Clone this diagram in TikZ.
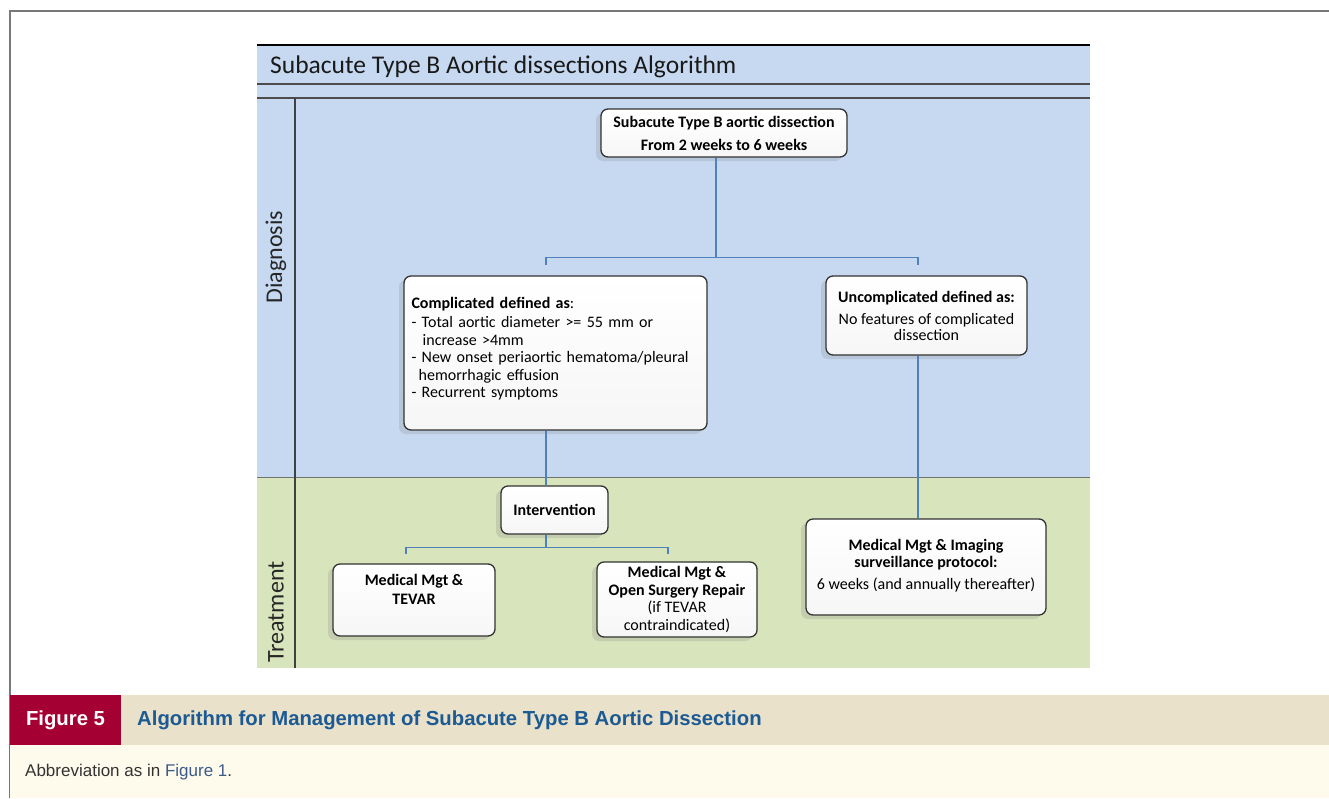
\documentclass[tikz,border=0pt]{standalone}
\usepackage{fontspec}
\setmainfont{Carlito}
\newfontfamily\capfont{Liberation Sans}
\usetikzlibrary{shadows,calc}
\definecolor{bandblue}{RGB}{198,217,240}
\definecolor{bandgreen}{RGB}{216,228,188}
\definecolor{figred}{RGB}{165,0,52}
\definecolor{captan}{RGB}{233,225,202}
\definecolor{capcream}{RGB}{254,251,236}
\definecolor{capblue}{RGB}{28,90,148}
\definecolor{linkblue}{RGB}{60,90,140}
\definecolor{connblue}{RGB}{79,129,189}
\definecolor{boxborder}{RGB}{50,50,50}
\definecolor{framegray}{RGB}{120,120,120}
\begin{document}
\begin{tikzpicture}[x=1pt,y=-1pt,
  box/.style={draw=boxborder, line width=1.3pt, rounded corners=7pt,
    top color=white, bottom color=gray!7,
    drop shadow={shadow xshift=-5pt, shadow yshift=-4pt, opacity=0.22, fill=gray},
    inner sep=3pt, align=center, font=\fontsize{16}{18}\selectfont},
  conn/.style={draw=connblue, line width=1.1pt},
  lane/.style={font=\fontsize{24}{28}\selectfont, rotate=90, text=black!85}]
\useasboundingbox (0,0) rectangle (1329,798);
% outer frame
\draw[framegray, line width=1.2pt] (10,798) -- (10,11) -- (1329,11);
% diagram background
\fill[bandblue] (257,45) rectangle (1090,477);
\fill[bandgreen] (257,477) rectangle (1090,668);
\draw[black, line width=2.5pt] (257,45) -- (1090,45);
\draw[black!70, line width=1.4pt] (257,84) -- (1090,84);
\draw[black!70, line width=1.4pt] (257,98) -- (1090,98);
\draw[black!55, line width=0.8pt] (257,477) -- (1090,477);
\draw[black!75, line width=1.2pt] (295,98) -- (295,668);
\node[anchor=west, font=\fontsize{25.5}{30}\selectfont, text=black!90, inner sep=0pt] (title) at (270,67) {Subacute Type B Aortic dissections Algorithm};
\node[lane] (diag) at (276,257) {Diagnosis};
\node[lane] (treat) at (276,612) {Treatment};
% boxes
\node[box, minimum width=246pt, minimum height=48pt, font=\bfseries\fontsize{16}{23}\selectfont] (top) at (724,133)
  {Subacute Type B aortic dissection\\From 2 weeks to 6 weeks};
\node[box, minimum width=303pt, minimum height=154pt, align=left, text width=288pt, font=\fontsize{16}{17.6}\selectfont] (comp) at (555.5,353)
  {\textbf{Complicated defined as}:\\[1pt]
   - Total aortic diameter >= 55 mm or\\
   \hspace*{0.7em}increase >4mm\\
   - New onset periaortic hematoma/pleural\\
   \hspace*{0.45em}hemorrhagic effusion\\
   - Recurrent symptoms\\[-7pt]\mbox{}};
\node[box, minimum width=201pt, minimum height=79pt, font=\fontsize{16}{16}\selectfont] (uncomp) at (926.5,315.5)
  {\textbf{Uncomplicated defined as:}\\[6pt]No features of complicated\\dissection};
\node[box, minimum width=107pt, minimum height=48pt, font=\bfseries\fontsize{16}{18}\selectfont] (interv) at (554.5,510) {Intervention};
\node[box, minimum width=240pt, minimum height=96pt, font=\fontsize{16}{17}\selectfont] (imaging) at (926,567)
  {\mbox{}\\[-9pt]\textbf{Medical Mgt \& Imaging}\\\textbf{surveillance protocol:}\\[5pt]6 weeks (and annually thereafter)};
\node[box, minimum width=162pt, minimum height=72pt, font=\bfseries\fontsize{16}{19}\selectfont] (tevar) at (414,600)
  {Medical Mgt \&\\TEVAR\\[2pt]\mbox{}};
\node[box, minimum width=160pt, minimum height=75pt, font=\fontsize{16}{17.7}\selectfont] (open) at (677,599.5)
  {\textbf{Medical Mgt \&}\\\textbf{Open Surgery Repair}\\(if TEVAR\\contraindicated)};
% connectors
\draw[conn] ([xshift=-8pt]top.south) |- ([xshift=-9.5pt,yshift=18pt]comp.north) -- ++(0,8);
\draw[conn] ([xshift=-8pt]top.south) |- ([xshift=-8.5pt,yshift=18pt]uncomp.north) -- ++(0,8);
\draw[conn] ([xshift=-9.5pt]comp.south) -- ([xshift=-9.5pt]comp.south |- interv.north);
\draw[conn] ([xshift=-8.5pt]uncomp.south) -- ([xshift=-8.5pt]uncomp.south |- imaging.north);
\draw[conn] ([xshift=-8.5pt]interv.south) |- ([xshift=-8pt,yshift=16pt]tevar.north) -- ++(0,7);
\draw[conn] ([xshift=-8.5pt]interv.south) |- ([xshift=-9pt,yshift=14pt]open.north) -- ++(0,7);
% caption
\fill[captan] (10,695) rectangle (1329,745);
\fill[capcream] (10,745) rectangle (1329,798);
\node[fill=figred, minimum width=111pt, minimum height=50pt, inner sep=0pt, text=white, font=\capfont\bfseries\fontsize{20.3}{22}\selectfont] (figlabel) at (65.5,720) {Figure 5};
\node[anchor=west, inner sep=0pt, text=capblue, font=\capfont\bfseries\fontsize{20.3}{22}\selectfont] (captitle) at (137,720) {Algorithm for Management of Subacute Type B Aortic Dissection};
\node[anchor=west, inner sep=0pt, text=black!80, font=\capfont\fontsize{17}{20}\selectfont] (abbrev) at (25,772) {Abbreviation as in \textcolor{linkblue}{Figure 1}.};
\end{tikzpicture}
\end{document}
